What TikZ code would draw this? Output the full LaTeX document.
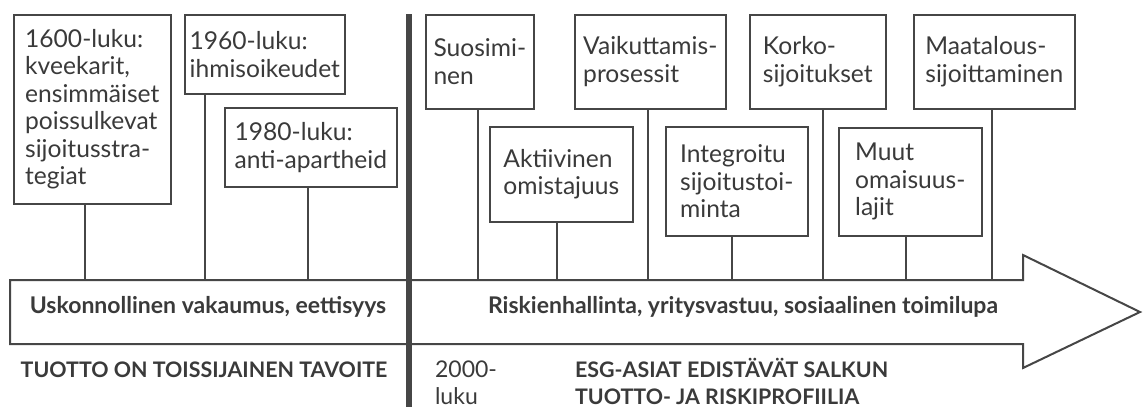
\documentclass[tikz,border=0pt]{standalone}
\usepackage{fontspec}
\setmainfont{Lato}
\definecolor{inkgray}{HTML}{3A3A3A}
\definecolor{linegray}{HTML}{464646}
\tikzset{
  card/.style={draw=linegray, line width=0.8pt, anchor=north west, align=left,
    inner sep=0pt, text=inkgray, font=\fontsize{12.3}{13.75}\selectfont},
  stem/.style={draw=linegray, line width=0.7pt},
  band/.style={text=inkgray, font=\fontsize{11.5}{13.5}\selectfont\bfseries},
  caps/.style={text=inkgray, align=left, font=\fontsize{10.7}{13.5}\selectfont\bfseries},
  note/.style={text=inkgray, align=left, anchor=west, font=\fontsize{11.5}{13.5}\selectfont}
}
\begin{document}
\begin{tikzpicture}[x=0.5pt,y=-0.5pt]
\useasboundingbox (0,0) rectangle (1146,407);
% time arrow
\draw[draw=linegray, line width=1pt, fill=white] (10,280) -- (1023,280) -- (1023,255) -- (1140,312)
  -- (1023,368) -- (1023,344) -- (10,344) -- cycle;
\coordinate (axis) at (0,280);
\draw[draw=linegray, line width=3pt] (409,14) -- (409,407);

% early period
\node[card, minimum width=78.5pt, minimum height=94.5pt] (b1600) at (13,14) {1600-luku:\\kveekarit,\\ensimmäiset\\poissulkevat\\sijoitusstra-\\tegiat};
\node[card, minimum width=80pt, minimum height=39.5pt] (b1960) at (184,14) {1960-luku:\\ihmisoikeudet};
\node[card, minimum width=86pt, minimum height=39.5pt] (b1980) at (224,107) {1980-luku:\\anti-apartheid};

% 2000s
\node[card, minimum width=54pt, minimum height=47pt] (bsuos) at (425,14) {Suosimi-\\nen};
\node[card, minimum width=71.5pt, minimum height=47.5pt] (bakt) at (489,126) {Aktiivinen\\omistajuus};
\node[card, minimum width=75.5pt, minimum height=47pt] (bvaik) at (574,14) {Vaikuttamis-\\prosessit};
\node[card, minimum width=71pt, minimum height=54.5pt] (bint) at (665,126) {Integroitu\\sijoitustoi-\\minta};
\node[card, minimum width=68pt, minimum height=47pt] (bkorko) at (749,14) {Korko-\\sijoitukset};
\node[card, minimum width=71.5pt, minimum height=54pt] (bmuut) at (838,127) {Muut\\omaisuus-\\lajit};
\node[card, minimum width=80.5pt, minimum height=47pt] (bmaat) at (913,14) {Maatalous-\\sijoittaminen};

\draw[stem] ([xshift=36pt]b1600.south west) -- ([xshift=36pt]b1600.south west |- axis);
\draw[stem] ([xshift=10.5pt]b1960.south west) -- ([xshift=10.5pt]b1960.south west |- axis);
\draw[stem] ([xshift=42pt]b1980.south west) -- ([xshift=42pt]b1980.south west |- axis);
\draw[stem] ([xshift=26.5pt]bsuos.south west) -- ([xshift=26.5pt]bsuos.south west |- axis);
\draw[stem] ([xshift=34pt]bakt.south west) -- ([xshift=34pt]bakt.south west |- axis);
\draw[stem] ([xshift=37pt]bvaik.south west) -- ([xshift=37pt]bvaik.south west |- axis);
\draw[stem] ([xshift=33.5pt]bint.south west) -- ([xshift=33.5pt]bint.south west |- axis);
\draw[stem] ([xshift=37pt]bkorko.south west) -- ([xshift=37pt]bkorko.south west |- axis);
\draw[stem] ([xshift=34pt]bmuut.south west) -- ([xshift=34pt]bmuut.south west |- axis);
\draw[stem] ([xshift=39.5pt]bmaat.south west) -- ([xshift=39.5pt]bmaat.south west |- axis);

% labels in and under the arrow
\node[band] (tvak) at (208,307) {Uskonnollinen vakaumus, eettisyys};
\node[band] (trisk) at (743,307) {Riskienhallinta, yritysvastuu, sosiaalinen toimilupa};
\node[caps] (ttuotto) at (204,370) {TUOTTO ON TOISSIJAINEN TAVOITE};
\node[note] (t2000) at (428,383) {2000-\\luku};
\node[caps, anchor=west] (tesg) at (568,381) {ESG-ASIAT EDISTÄVÄT SALKUN\\TUOTTO- JA RISKIPROFIILIA};
\end{tikzpicture}
\end{document}
